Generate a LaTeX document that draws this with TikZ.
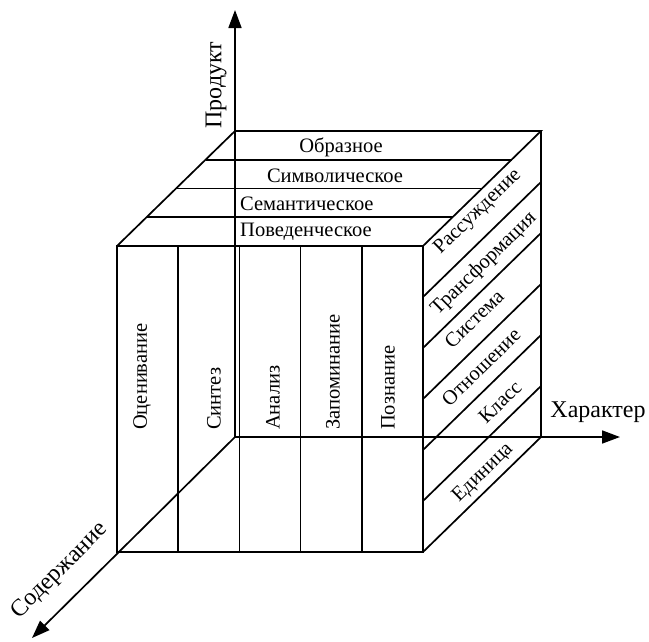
\documentclass[tikz,border=0pt]{standalone}
\usepackage{fontspec}
\setmainfont{Liberation Serif}
\usetikzlibrary{arrows.meta}

\tikzset{
    edge/.style={line width=1.7pt},
    axis/.style={line width=1.7pt, -{Triangle[length=18pt,width=13pt]}},
    lbl/.style={font=\fontsize{20.5}{22}\selectfont, inner sep=0pt},
    axislbl/.style={font=\fontsize{24}{26}\selectfont, inner sep=0pt}
}

\begin{document}
\begin{tikzpicture}[x=1pt,y=-1pt]
        \useasboundingbox (0,0) rectangle (649,641);

        % axes
        \coordinate (O) at (235,437);
        \coordinate (prodTip) at (235,10);
        \coordinate (charTip) at (620,437);
        \coordinate (contTip) at (32,638);
        \draw[axis] (O) -- (prodTip);
        \draw[axis] (O) -- (charTip);
        \draw[axis] (O) -- (contTip);
        \node[axislbl, rotate=90] (prod) at (216,85) {Продукт};
        \node[axislbl] (char) at (598,412) {Характер};
        \node[axislbl, rotate=45] (cont) at (60,571) {Содержание};

        % front face: operations
        \draw[edge] (117,246) rectangle (423,552);
        \foreach \i in {1,...,4}
            \draw[edge] (117+61.2*\i,246) -- (117+61.2*\i,552);
        \node[lbl, rotate=90, anchor=west] (op1) at (142,430) {Оценивание};
        \node[lbl, rotate=90, anchor=west] (op2) at (214,430) {Синтез};
        \node[lbl, rotate=90, anchor=west] (op3) at (273,430) {Анализ};
        \node[lbl, rotate=90, anchor=west] (op4) at (333,430) {Запоминание};
        \node[lbl, rotate=90, anchor=west] (op5) at (388,430) {Познание};

        % top face: content
        \draw[edge] (235,131) -- (541,131) -- (423,246);
        \draw[edge] (235,131) -- (117,246);
        \foreach \i in {1,...,3}
            \draw[edge] (235-29.5*\i,131+28.75*\i) -- (541-29.5*\i,131+28.75*\i);
        \node[lbl] (ct1) at (341,147) {Образное};
        \node[lbl] (ct2) at (335,176) {Символическое};
        \node[lbl, anchor=west] (ct3) at (240,204) {Семантическое};
        \node[lbl, anchor=west] (ct4) at (240,232) {Поведенческое};

        % right face: products
        \draw[edge] (541,131) -- (541,437) -- (423,552);
        \foreach \i in {1,...,5}
            \draw[edge] (541,131+51*\i) -- (423,246+51*\i);
        \node[lbl, rotate=44.3] (pr1) at (478,212) {Рассуждение};
        \node[lbl, rotate=44.3] (pr2) at (484,264) {Трансформация};
        \node[lbl, rotate=44.3] (pr3) at (474,319) {Система};
        \node[lbl, rotate=44.3] (pr4) at (481,367) {Отношение};
        \node[lbl, rotate=44.3] (pr5) at (500,402) {Класс};
        \node[lbl, rotate=44.3] (pr6) at (483,473) {Единица};

    \end{tikzpicture}
\end{document}
